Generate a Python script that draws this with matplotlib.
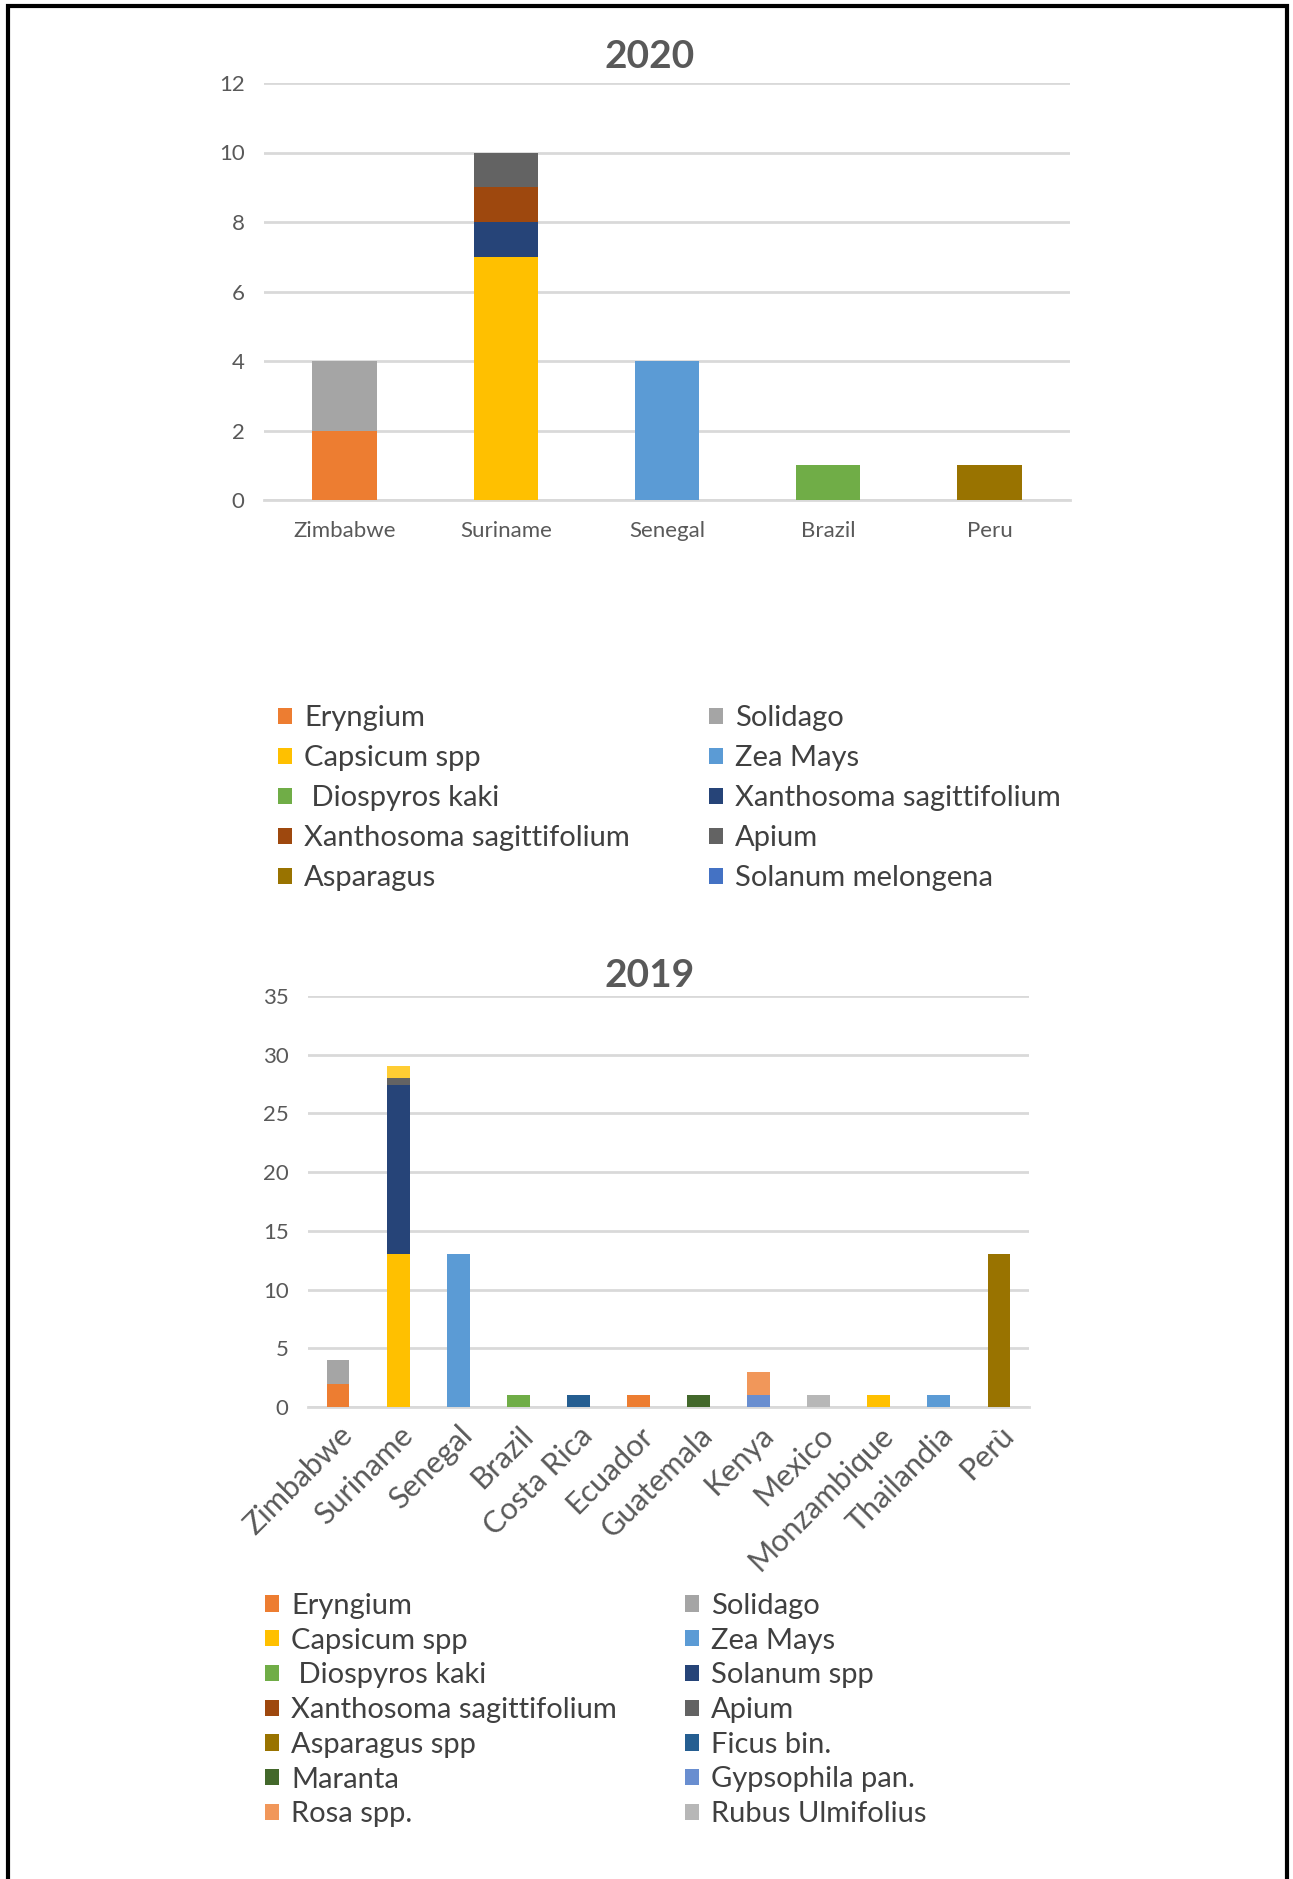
import numpy as np
import matplotlib
matplotlib.use("Agg")
import matplotlib.pyplot as plt
from matplotlib.patches import Patch, Rectangle

plt.rcParams['font.family'] = ['Lato', 'DejaVu Sans']

# ---- 2020 data ----
countries_2020 = ['Zimbabwe', 'Suriname', 'Senegal', 'Brazil', 'Peru']
species_2020 = ['Eryngium', 'Solidago', 'Capsicum spp', 'Zea Mays', ' Diospyros kaki',
                'Xanthosoma sagittifolium', 'Xanthosoma sagittifolium', 'Apium',
                'Asparagus', 'Solanum melongena']
colors_2020 = ['#ED7D31', '#A5A5A5', '#FFC000', '#5B9BD5', '#70AD47',
               '#264478', '#9E480E', '#636363', '#997300', '#4472C4']
eryngium_20 = [2, 0, 0, 0, 0]
solidago_20 = [2, 0, 0, 0, 0]
capsicum_20 = [0, 7, 0, 0, 0]
zeamays_20 = [0, 0, 4, 0, 0]
diospyros_20 = [0, 0, 0, 1, 0]
xantho_blue_20 = [0, 1, 0, 0, 0]
xantho_brown_20 = [0, 1, 0, 0, 0]
apium_20 = [0, 1, 0, 0, 0]
asparagus_20 = [0, 0, 0, 0, 1]
solanum_mel_20 = [0, 0, 0, 0, 0]
values_2020 = [eryngium_20, solidago_20, capsicum_20, zeamays_20, diospyros_20,
               xantho_blue_20, xantho_brown_20, apium_20, asparagus_20, solanum_mel_20]

# ---- 2019 data ----
countries_2019 = ['Zimbabwe', 'Suriname', 'Senegal', 'Brazil', 'Costa Rica', 'Ecuador',
                  'Guatemala', 'Kenya', 'Mexico', 'Monzambique', 'Thailandia', 'Perù']
species_2019 = ['Eryngium', 'Solidago', 'Capsicum spp', 'Zea Mays', ' Diospyros kaki',
                'Solanum spp', 'Xanthosoma sagittifolium', 'Apium', 'Asparagus spp',
                'Ficus bin.', 'Maranta', 'Gypsophila pan.', 'Rosa spp.', 'Rubus Ulmifolius']
colors_2019 = ['#ED7D31', '#A5A5A5', '#FFC000', '#5B9BD5', '#70AD47', '#264478',
               '#9E480E', '#636363', '#997300', '#255E91', '#43682B', '#698ED0',
               '#F1975A', '#B7B7B7']
eryngium_19 = [2, 0, 0, 0, 0, 1, 0, 0, 0, 0, 0, 0]
solidago_19 = [2, 0, 0, 0, 0, 0, 0, 0, 0, 0, 0, 0]
capsicum_19 = [0, 13, 0, 0, 0, 0, 0, 0, 0, 1, 0, 0]
zeamays_19 = [0, 0, 13, 0, 0, 0, 0, 0, 0, 0, 1, 0]
diospyros_19 = [0, 0, 0, 1, 0, 0, 0, 0, 0, 0, 0, 0]
solanum_19 = [0, 14.4, 0, 0, 0, 0, 0, 0, 0, 0, 0, 0]
xantho_19 = [0, 0, 0, 0, 0, 0, 0, 0, 0, 0, 0, 0]
apium_19 = [0, 0.6, 0, 0, 0, 0, 0, 0, 0, 0, 0, 0]
asparagus_19 = [0, 0, 0, 0, 0, 0, 0, 0, 0, 0, 0, 13]
ficus_19 = [0, 0, 0, 0, 1, 0, 0, 0, 0, 0, 0, 0]
maranta_19 = [0, 0, 0, 0, 0, 0, 1, 0, 0, 0, 0, 0]
gypsophila_19 = [0, 0, 0, 0, 0, 0, 0, 1, 0, 0, 0, 0]
rosa_19 = [0, 0, 0, 0, 0, 0, 0, 2, 0, 0, 0, 0]
rubus_19 = [0, 0, 0, 0, 0, 0, 0, 0, 1, 0, 0, 0]
values_2019 = [eryngium_19, solidago_19, capsicum_19, zeamays_19, diospyros_19,
               solanum_19, xantho_19, apium_19, asparagus_19, ficus_19, maranta_19,
               gypsophila_19, rosa_19, rubus_19]
# unlabelled series sitting on top of Suriname (not in the legend)
extra_19 = [0, 1, 0, 0, 0, 0, 0, 0, 0, 0, 0, 0]

W, H = 1293, 1879
fig = plt.figure(figsize=(W / 100, H / 100), dpi=100)
TICK_C = '#595959'
GRID_C = '#D9D9D9'


def fx(px):
    return px / W


def fy(py):
    return 1 - py / H


def stacked(ax, cats, series, colors, width):
    x = np.arange(len(cats))
    bottom = np.zeros(len(cats))
    for vals, c in zip(series, colors):
        vals = np.array(vals, dtype=float)
        ax.bar(x, vals, width, bottom=bottom, color=c, zorder=3, linewidth=0)
        bottom += vals
    return x, bottom


def style(ax, ymax, step):
    ax.set_ylim(0, ymax)
    ax.set_yticks(np.arange(0, ymax + 0.1, step))
    ax.grid(axis='y', color=GRID_C, linewidth=2, zorder=0)
    for s in ['top', 'right', 'left']:
        ax.spines[s].set_visible(False)
    ax.spines['bottom'].set_color(GRID_C)
    ax.spines['bottom'].set_linewidth(2)
    ax.tick_params(axis='both', length=0, colors=TICK_C, labelsize=16)
    ax.tick_params(axis='y', pad=14)


# ---- 2020 chart ----
ax1 = fig.add_axes([fx(264), fy(500), fx(1070 - 264), (500 - 83) / H])
x1, _ = stacked(ax1, countries_2020, values_2020, colors_2020, 0.4)
ax1.set_xlim(-0.5, len(countries_2020) - 0.5)
ax1.set_xticks(x1)
ax1.set_xticklabels(countries_2020)
style(ax1, 12, 2)
ax1.tick_params(axis='x', pad=15, labelsize=16)
fig.text(fx(650), fy(56), '2020', ha='center', va='center', fontsize=28,
         fontweight='bold', color=TICK_C)

# ---- 2019 chart ----
ax2 = fig.add_axes([fx(308), fy(1407), fx(1029 - 308), (1407 - 996) / H])
x2, tops = stacked(ax2, countries_2019, values_2019, colors_2019, 0.38)
ax2.bar(x2, extra_19, 0.38, bottom=tops, color='#FFCD33', zorder=3, linewidth=0)
ax2.set_xlim(-0.5, len(countries_2019) - 0.5)
ax2.set_xticks(x2)
style(ax2, 35, 5)
ax2.set_xticklabels(countries_2019, rotation=45, ha='right', rotation_mode='anchor',
                    fontsize=22)
ax2.tick_params(axis='x', pad=10)
fig.text(fx(650), fy(975), '2019', ha='center', va='center', fontsize=28,
         fontweight='bold', color=TICK_C)


# ---- legends (Excel fills rows left-to-right, so one legend per column) ----
def legend_cols(names, colors, col_x, y_center, spacing):
    handles = [Patch(facecolor=c, edgecolor='none') for c in colors]
    for k, xpos in enumerate(col_x):
        leg = fig.legend(handles[k::2], names[k::2], loc='center left',
                         bbox_to_anchor=(fx(xpos), fy(y_center)), frameon=False,
                         fontsize=21, handlelength=0.48, handleheight=0.48,
                         handletextpad=0.41, borderpad=0, borderaxespad=0,
                         labelspacing=spacing)
        for t in leg.get_texts():
            t.set_color('#404040')


legend_cols(species_2020, colors_2020, [278, 709], 798, 0.48)
legend_cols(species_2019, colors_2019, [265, 685], 1710, 0.30)

# page frame
fig.patches.append(Rectangle((fx(8), -0.01), fx(1287 - 8), fy(6) + 0.01,
                             transform=fig.transFigure, fill=False,
                             edgecolor='black', linewidth=3))

fig.savefig('out.png', dpi=100)
